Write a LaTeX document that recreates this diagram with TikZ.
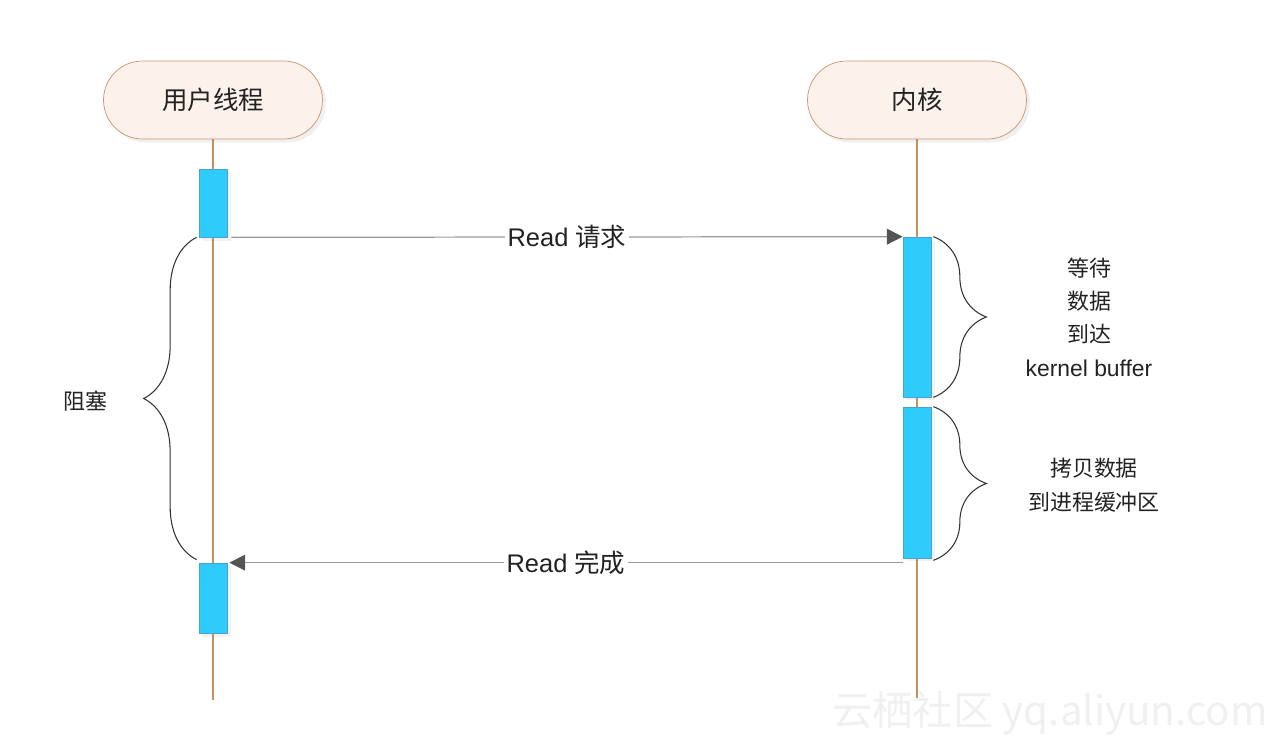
\documentclass[tikz,border=0pt]{standalone}
\usepackage{fontspec}
\setmainfont{Noto Sans CJK SC}
\newfontfamily\latinfont{Liberation Sans}
\usepackage{tikz}
\usetikzlibrary{arrows.meta,positioning,calc,backgrounds,shadows,decorations.pathreplacing}
\definecolor{pillfill}{HTML}{FDF1EB}
\definecolor{pilldraw}{HTML}{C9956B}
\definecolor{lifeline}{HTML}{C4915F}
\definecolor{actfill}{HTML}{2ECCFA}
\definecolor{actdraw}{HTML}{4A9FD8}
\definecolor{msgline}{HTML}{9A9A9A}
\definecolor{msghead}{HTML}{555555}
\definecolor{ink}{HTML}{222222}

\begin{document}
\begin{tikzpicture}[
    x=0.02cm, y=-0.02cm,
    actor/.style={draw=pilldraw, fill=pillfill, text=ink, rounded corners=0.78cm, minimum width=4.38cm, minimum height=1.56cm, font=\fontsize{14.5}{17}\selectfont, drop shadow={opacity=0.12, shadow xshift=2pt, shadow yshift=-2pt}},
    act/.style={draw=actdraw, fill=actfill, minimum width=0.56cm, inner sep=0pt, drop shadow={opacity=0.1, shadow xshift=2pt, shadow yshift=-2pt}},
    life/.style={draw=lifeline, line width=0.7pt},
    msg/.style={draw=msgline, line width=0.7pt, -{Triangle[length=9pt,width=9pt,color=msghead]}},
    msglbl/.style={fill=white, text=ink, inner sep=1.5pt, font=\fontsize{14.5}{17}\selectfont},
    brc/.style={draw=black!80, line width=0.6pt, decorate, decoration={brace, amplitude=1.06cm}},
    lbl/.style={text=ink, font=\fontsize{12.5}{19}\selectfont, align=center},
    wm/.style={text=black!6, font=\fontsize{23}{28}\selectfont}
]
\useasboundingbox (0,0) rectangle (1272,746);
\node[actor] (u) at (213,100) {用户线程};
\node[actor] (k) at (917,100) {内核};
\node[act, minimum height=1.36cm] (ua1) at (213,203) {};
\node[act, minimum height=1.40cm] (ua2) at (213,598) {};
\node[act, minimum height=3.2cm] (ka1) at (917,317) {};
\node[act, minimum height=3.02cm] (ka2) at (917,482.5) {};
\coordinate (uend) at (213,700);
\coordinate (kend) at (917,700);
\begin{scope}[on background layer]
\draw[life] (u) -- (uend);
\draw[life] (k) -- (kend);
\end{scope}
% messages
\draw[msg] ($(ua1.south east)+(4,0)$) -- (ka1.north west) node[midway, msglbl] {{\latinfont Read\ }请求};
\draw[msg] (ka2.west |- ua2.north) -- ($(ua2.north east)+(2,0)$) node[midway, msglbl] {{\latinfont Read\ }完成};
% braces
\draw[brc] ($(ua2.north west)+(-2,-3)$) -- ($(ua1.south west)+(-2,0)$);
\draw[brc] ($(ka1.north east)+(2,0)$) -- ($(ka1.south east)+(2,0)$);
\draw[brc] ($(ka2.north east)+(2,0)$) -- ($(ka2.south east)+(2,2)$);
\node[lbl] (block) at (85,401) {阻塞};
\node[lbl] (wait) at (1089,317) {等待\\数据\\到达\\{\latinfont\fontsize{13}{19}\selectfont kernel buffer}};
\node[lbl] (copy) at (1094,485) {拷贝数据\\到进程缓冲区};
\node[wm] (mark) at (1050,713) {云栖社区 yq.aliyun.com};
\end{tikzpicture}
\end{document}
